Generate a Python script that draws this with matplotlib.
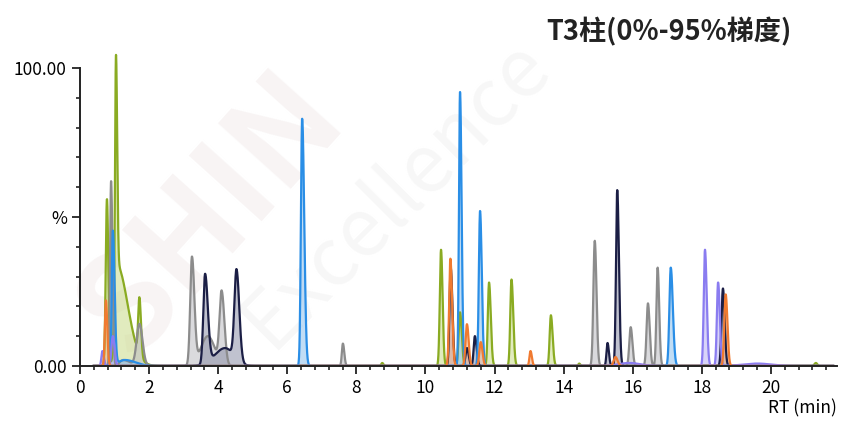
import matplotlib.pyplot as plt
import numpy as np
from matplotlib.ticker import MultipleLocator

plt.rcParams['font.family'] = ['Noto Sans CJK SC', 'DejaVu Sans']

# Peak tables: (RT centre, height %, left width, right width)
green_peaks = [(0.78, 56, 0.035, 0.04), (1.04, 72, 0.025, 0.035), (1.06, 34, 0.06, 0.32),
               (1.72, 19, 0.035, 0.045), (8.75, 1, 0.03, 0.03), (10.45, 39, 0.035, 0.045),
               (11.0, 18, 0.04, 0.05), (11.84, 28, 0.035, 0.05), (12.49, 29, 0.035, 0.05),
               (13.63, 17, 0.035, 0.05), (14.45, 0.8, 0.03, 0.03), (21.3, 1, 0.04, 0.04)]
gray_peaks = [(0.9, 62, 0.03, 0.04), (1.72, 14, 0.08, 0.09), (1.25, 2, 0.1, 0.2),
              (3.24, 36, 0.05, 0.07), (3.7, 10, 0.2, 0.2), (4.1, 24, 0.06, 0.08),
              (7.61, 7.5, 0.03, 0.04), (14.9, 42, 0.04, 0.05), (15.94, 13, 0.04, 0.05),
              (16.44, 21, 0.04, 0.05), (16.72, 33, 0.035, 0.045)]
navy_peaks = [(3.62, 30, 0.05, 0.08), (4.2, 6, 0.3, 0.25), (4.53, 30, 0.06, 0.08),
              (10.73, 33, 0.035, 0.05), (11.2, 6, 0.04, 0.05), (11.43, 10, 0.035, 0.05),
              (15.27, 7.7, 0.03, 0.04), (15.55, 59, 0.035, 0.05), (18.61, 26, 0.04, 0.05)]
blue_peaks = [(0.95, 45, 0.03, 0.05), (1.3, 2, 0.2, 0.3), (6.43, 83, 0.035, 0.06),
              (11.0, 92, 0.03, 0.045), (11.58, 52, 0.035, 0.05), (17.1, 33, 0.04, 0.06)]
purple_peaks = [(0.65, 5, 0.03, 0.04), (0.95, 10, 0.04, 0.05), (15.9, 1, 0.3, 0.3),
                (18.09, 39, 0.035, 0.05), (18.47, 28, 0.035, 0.05), (19.6, 0.8, 0.4, 0.4)]
orange_peaks = [(0.75, 22, 0.03, 0.04), (10.72, 36, 0.035, 0.05), (11.2, 14, 0.04, 0.05),
                (11.6, 8, 0.04, 0.05), (13.04, 5, 0.03, 0.04), (15.5, 3, 0.05, 0.06),
                (18.69, 24, 0.04, 0.05)]

series = [
    (green_peaks, '#8aab22', '#c9dc8a'),
    (gray_peaks, '#8c8c8c', '#bdbdc2'),
    (navy_peaks, '#1b1e45', '#8d90a8'),
    (blue_peaks, '#2a8ee6', '#8fc2ee'),
    (purple_peaks, '#8a7cf0', '#b9b1f5'),
    (orange_peaks, '#f07a30', '#f4b48a'),
]


def trace(x, peaks):
    y = np.zeros_like(x)
    for c, h, sl, sr in peaks:
        s = np.where(x < c, sl, sr)
        y += h * np.exp(-0.5 * ((x - c) / s) ** 2)
    return y


rt = np.linspace(0.4, 21.8, 6000)

fig = plt.figure(figsize=(8.43, 4.28), dpi=100)
ax = fig.add_axes([0.0949, 0.145, 0.8975, 0.731])

# faint watermark, behind everything
fig.text(0.25, 0.5, 'SHIN', fontsize=95, rotation=48, color='#f8f4f4',
         ha='center', va='center', fontweight='bold', zorder=-1)
fig.text(0.47, 0.55, 'Excellence', fontsize=58, rotation=45, color='#f7f7f7',
         ha='center', va='center', zorder=-1)

for peaks, lc, fc in series:
    y = trace(rt, peaks)
    ax.fill_between(rt, 0, y, color=fc, alpha=0.55, lw=0)
    ax.plot(rt, y, color=lc, lw=1.6)

ax.set_xlim(0, 21.9)
ax.set_ylim(0, 105)
ax.patch.set_alpha(0)

for s in ['top', 'right']:
    ax.spines[s].set_visible(False)
for s in ['left', 'bottom']:
    ax.spines[s].set_linewidth(1.4)
    ax.spines[s].set_color('#222222')
ax.spines['left'].set_bounds(0, 100)

ax.set_yticks([0, 50, 100])
ax.set_yticklabels(['0.00', '%', '100.00'])
ax.yaxis.set_minor_locator(MultipleLocator(10))
ax.set_xticks(np.arange(0, 21, 2))
ax.xaxis.set_minor_locator(MultipleLocator(0.4))
ax.tick_params(which='major', length=6, width=1.3, labelsize=12.5, color='#222222')
ax.tick_params(which='minor', length=3, width=1.2, color='#222222')

fig.text(0.993, 0.025, 'RT (min)', ha='right', va='bottom', fontsize=12.5)
fig.text(0.793, 0.925, 'T3柱(0%-95%梯度)', ha='center', va='center',
         fontsize=19.5, fontweight='bold', color='#222222')

fig.savefig('out.png', dpi=100)
